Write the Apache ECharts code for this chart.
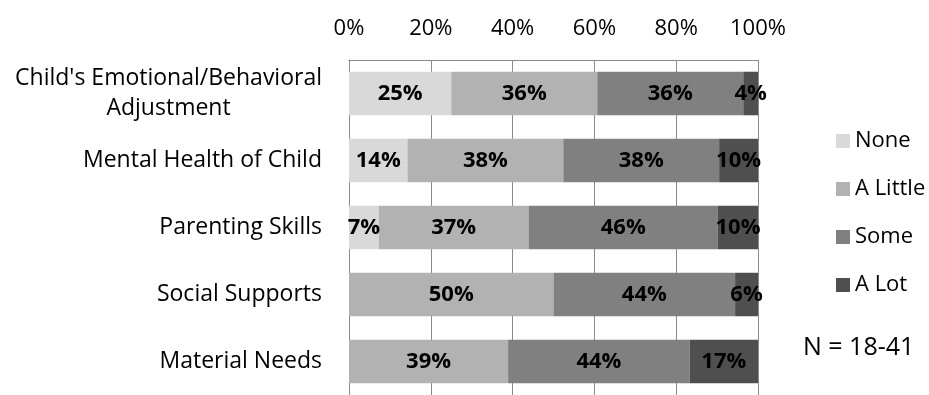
<!DOCTYPE html>
<html>
<head>
<meta charset="utf-8">
<script src="https://cdn.jsdelivr.net/npm/echarts@6/dist/echarts.min.js"></script>
<style>
html,body{margin:0;padding:0;background:#fff;}
#chart{width:929px;height:395px;}
</style>
</head>
<body>
<div id="chart"></div>
<script>
const categories = ["Child's Emotional/Behavioral\nAdjustment", "Mental Health of Child", "Parenting Skills", "Social Supports", "Material Needs"];
const seriesNames = ["None", "A Little", "Some", "A Lot"];
const none    = [25.0, 14.3, 7.3, 0, 0];
const aLittle = [35.7, 38.1, 36.6, 50.0, 38.9];
const some    = [35.7, 38.1, 46.3, 44.4, 44.4];
const aLot    = [3.6, 9.5, 9.8, 5.6, 16.7];
const tickValues = [0, 20, 40, 60, 80, 100];
const noteText = "N = 18-41";

const colors = ["#d9d9d9", "#b2b2b2", "#808080", "#4f4f4f"];
const FONT = "'Open Sans', 'Noto Sans', sans-serif";
const gridColor = "#8a8a8a";

const chart = echarts.init(document.getElementById('chart'), null, {renderer: 'canvas'});

const seriesData = [none, aLittle, some, aLot];
const series = seriesData.map((d, i) => ({
  name: seriesNames[i],
  type: 'bar',
  stack: 'total',
  barCategoryGap: '35%',
  data: d,
  itemStyle: {color: colors[i]},
  label: {
    show: true,
    position: 'inside',
    color: '#000',
    fontFamily: FONT,
    fontWeight: 'bold',
    fontSize: 22,
    formatter: p => p.value > 0 ? Math.round(p.value) + '%' : ''
  },
  emphasis: {disabled: true}
}));

chart.setOption({
  animation: false,
  textStyle: {fontFamily: FONT},
  grid: {left: 349, width: 409, top: 60, bottom: -3, containLabel: false},
  legend: {
    orient: 'vertical',
    left: 831,
    top: 125,
    itemWidth: 14,
    itemHeight: 14,
    itemGap: 26,
    icon: 'rect',
    data: seriesNames,
    textStyle: {color: '#000', fontSize: 22, fontFamily: FONT, lineHeight: 22}
  },
  xAxis: {
    type: 'value',
    position: 'top',
    min: 0,
    max: 100,
    interval: 20,
    axisLine: {show: true, lineStyle: {color: gridColor, width: 1}},
    axisTick: {show: false},
    splitLine: {show: true, lineStyle: {color: gridColor, width: 1}},
    axisLabel: {
      color: '#000',
      fontSize: 22,
      fontFamily: FONT,
      margin: 20,
      formatter: v => tickValues.includes(v) ? v + '%' : ''
    }
  },
  yAxis: {
    type: 'category',
    inverse: true,
    data: categories,
    axisLine: {show: true, lineStyle: {color: gridColor, width: 1}},
    axisTick: {show: false},
    splitLine: {show: false},
    axisLabel: {
      color: '#000',
      fontSize: 23,
      fontFamily: FONT,
      margin: 27,
      formatter: v => {
        const parts = v.split('\n');
        if (parts.length === 1) return '{a|' + v + '}';
        return '{a|' + parts[0] + '}\n{b|' + parts[1] + '}';
      },
      rich: {
        a: {fontSize: 23, fontFamily: FONT, color: '#000', lineHeight: 30},
        b: {fontSize: 23, fontFamily: FONT, color: '#000', lineHeight: 30, align: 'center'}
      }
    }
  },
  graphic: [{
    type: 'text',
    left: 803,
    top: 335,
    style: {text: noteText, fill: '#000', font: "25px 'Open Sans', sans-serif"}
  }],
  series: series
});
</script>
</body>
</html>
